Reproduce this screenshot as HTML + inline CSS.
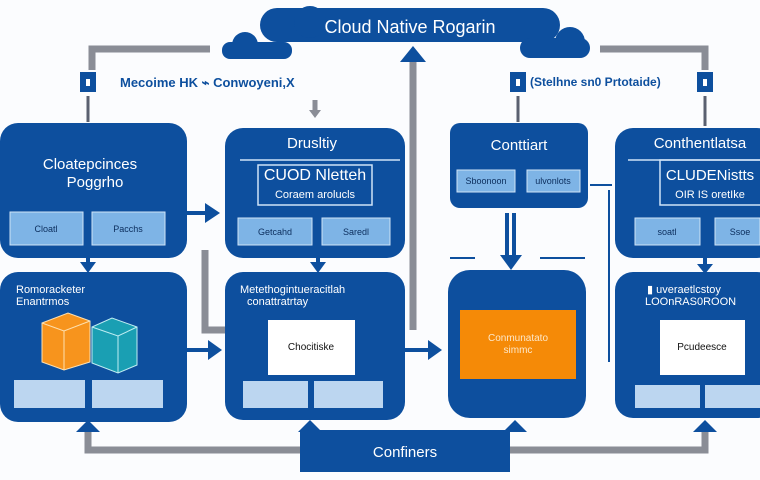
<!DOCTYPE html>
<html><head><meta charset="utf-8"><style>
html,body{margin:0;padding:0;background:#fff;width:760px;height:480px;overflow:hidden}
svg text{font-family:"Liberation Sans",sans-serif}
</style></head><body>
<svg width="760" height="480" viewBox="0 0 760 480" xmlns="http://www.w3.org/2000/svg">
<rect width="760" height="480" fill="#fbfcfe"/>
<g fill="none" stroke="#8a8d96" stroke-width="7">
<polyline points="210,49 92,49 92,70"/>
<polyline points="600,49 705,49 705,70"/>
<line x1="413" y1="60" x2="413" y2="330"/>
<polyline points="205,250 205,330 225,330"/>
<polyline points="88,428 88,450 300,450"/>
<polyline points="510,450 705,450 705,428"/>
</g>
<polygon points="400,62 413,46 426,62" fill="#0d4f9e"/>
<line x1="315" y1="100" x2="315" y2="112" stroke="#8a8d96" stroke-width="5"/>
<polygon points="309,110 321,110 315,118" fill="#8a8d96"/>
<!-- cloud -->
<g fill="#0d4f9e">
<rect x="260" y="8" width="300" height="34" rx="17"/>
<circle cx="245" cy="45" r="13"/><rect x="222" y="42" width="70" height="17" rx="8"/>
<circle cx="570" cy="42" r="15"/><rect x="520" y="38" width="70" height="20" rx="10"/>
<circle cx="310" cy="22" r="16"/>
</g>
<text x="410" y="33" fill="#fff" font-size="18" text-anchor="middle">Cloud Native Rogarin</text>
<!-- icons/labels -->
<g fill="#0d4f9e"><rect x="80" y="72" width="16" height="20"/><rect x="510" y="72" width="16" height="20"/><rect x="697" y="72" width="16" height="20"/></g>
<g fill="#fff"><rect x="86" y="79" width="4" height="7"/><rect x="516" y="79" width="4" height="7"/><rect x="703" y="79" width="4" height="7"/></g>
<g stroke="#5a6070" stroke-width="3"><line x1="88" y1="96" x2="88" y2="122"/><line x1="518" y1="96" x2="518" y2="122"/><line x1="705" y1="96" x2="705" y2="126"/></g>
<text x="120" y="87" fill="#0d4f9e" font-size="13" font-weight="bold">Mecoime HK ⌁ Conwoyeni,X</text>
<text x="530" y="86" fill="#0d4f9e" font-size="12" font-weight="bold">(Stelhne sn0 Prtotaide)</text>
<!-- row1 boxes -->
<g fill="#0d4f9e">
<rect x="0" y="123" width="187" height="135" rx="18"/>
<rect x="225" y="128" width="180" height="130" rx="18"/>
<rect x="450" y="123" width="138" height="85" rx="10"/>
<rect x="615" y="128" width="160" height="130" rx="18"/>
<rect x="0" y="272" width="187" height="150" rx="18"/>
<rect x="225" y="272" width="180" height="148" rx="18"/>
<rect x="448" y="270" width="138" height="148" rx="22"/>
<rect x="615" y="272" width="160" height="146" rx="18"/>
<rect x="300" y="430" width="210" height="42"/>
</g>
<g fill="#7eb4e6" stroke="#cfe3f7" stroke-width="1">
<rect x="10" y="212" width="73" height="33"/><rect x="92" y="212" width="73" height="33"/>
<rect x="238" y="218" width="74" height="27"/><rect x="322" y="218" width="68" height="27"/>
<rect x="457" y="170" width="58" height="22"/><rect x="527" y="170" width="53" height="22"/>
<rect x="635" y="218" width="65" height="27"/><rect x="715" y="218" width="45" height="27"/>
</g>
<g fill="#bcd6f0">
<rect x="14" y="380" width="71" height="28"/><rect x="92" y="380" width="71" height="28"/>
<rect x="243" y="381" width="65" height="27"/><rect x="314" y="381" width="69" height="27"/>
<rect x="635" y="385" width="65" height="23"/><rect x="705" y="385" width="55" height="23"/>
</g>
<g fill="none" stroke="#cfe3f7" stroke-width="1.5">
<rect x="258" y="165" width="114" height="40"/><rect x="660" y="160" width="110" height="45"/>
<path d="M240 160 H400"/><path d="M628 160 H760"/>
</g>
<g fill="#fff" font-size="15" text-anchor="middle">
<text x="90" y="169">Cloatepcinces</text><text x="95" y="187">Poggrho</text>
<text x="312" y="148">Drusltiy</text>
<text x="315" y="180" font-size="16">CUOD Nletteh</text>
<text x="315" y="198" font-size="11">Coraem arolucls</text>
<text x="519" y="150">Conttiart</text>
<text x="700" y="148">Conthentlatsa</text>
<text x="710" y="180" font-size="15">CLUDENistts</text>
<text x="710" y="198" font-size="11">OIR IS oretIke</text>
<text x="405" y="457" font-size="15">Confiners</text>
</g>
<g fill="#0b2d5c" font-size="9" text-anchor="middle">
<text x="46" y="232">Cloatl</text><text x="128" y="232">Pacchs</text>
<text x="275" y="235">Getcahd</text><text x="356" y="235">Saredl</text>
<text x="486" y="184">Sboonoon</text><text x="553" y="184">ulvonlots</text>
<text x="667" y="235">soatl</text><text x="740" y="235">Ssoe</text>
</g>
<g fill="#fff" font-size="11">
<text x="16" y="293">Romoracketer</text><text x="16" y="305">Enantrmos</text>
<text x="240" y="293">Metethogintueracitlah</text><text x="247" y="305">conattratrtay</text>
<text x="647" y="293">▮ uveraetlcstoy</text><text x="645" y="305">LOOnRAS0ROON</text>
</g>
<rect x="268" y="320" width="87" height="55" fill="#fff"/>
<rect x="660" y="320" width="85" height="55" fill="#fff"/>
<rect x="460" y="310" width="116" height="69" fill="#f58a07"/>
<g font-size="10" text-anchor="middle">
<text x="311" y="350" fill="#111">Chocitiske</text>
<text x="702" y="350" fill="#111">Pcudeesce</text>
<text x="518" y="341" fill="#fde7c8">Conmunatato</text>
<text x="518" y="353" fill="#fde7c8">simmc</text>
</g>
<!-- cubes -->
<polygon points="42,323 68,313 90,321 90,362 64,370 42,362" fill="#f7941d" stroke="#fde0b0"/>
<polyline points="42,323 64,331 90,321 M64,331 64,370" fill="none" stroke="#fde0b0"/>
<line x1="64" y1="331" x2="64" y2="370" stroke="#fde0b0"/>
<polygon points="92,327 112,318 137,327 137,365 118,373 92,363" fill="#1a9fb3" stroke="#c0eef3"/>
<polyline points="92,327 118,336 137,327" fill="none" stroke="#c0eef3"/>
<line x1="118" y1="336" x2="118" y2="373" stroke="#c0eef3"/>
<!-- arrows -->
<g stroke="#0d4f9e" stroke-width="4" fill="none">
<line x1="187" y1="213" x2="212" y2="213"/><line x1="187" y1="350" x2="214" y2="350"/>
<line x1="405" y1="350" x2="434" y2="350"/>
<line x1="88" y1="245" x2="88" y2="266"/><line x1="318" y1="245" x2="318" y2="266"/>
<line x1="507" y1="213" x2="507" y2="258"/><line x1="514" y1="213" x2="514" y2="258"/>
<line x1="705" y1="250" x2="705" y2="268"/>
<line x1="590" y1="185" x2="612" y2="185" stroke-width="2"/>
<line x1="450" y1="258" x2="475" y2="258" stroke-width="2"/>
<line x1="540" y1="258" x2="585" y2="258" stroke-width="2"/>
<line x1="609" y1="190" x2="609" y2="362" stroke-width="2"/>
</g>
<g fill="#0d4f9e">
<polygon points="205,203 220,213 205,223"/><polygon points="208,340 222,350 208,360"/><polygon points="428,340 442,350 428,360"/>
<polygon points="80,262 96,262 88,273"/><polygon points="310,262 326,262 318,273"/>
<polygon points="500,255 522,255 511,270"/><polygon points="697,264 713,264 705,274"/>
<polygon points="76,432 88,420 100,432"/><polygon points="298,432 310,420 322,432"/>
<polygon points="503,432 515,420 527,432"/><polygon points="693,432 705,420 717,432"/>
</g>
</svg>
</body></html>
